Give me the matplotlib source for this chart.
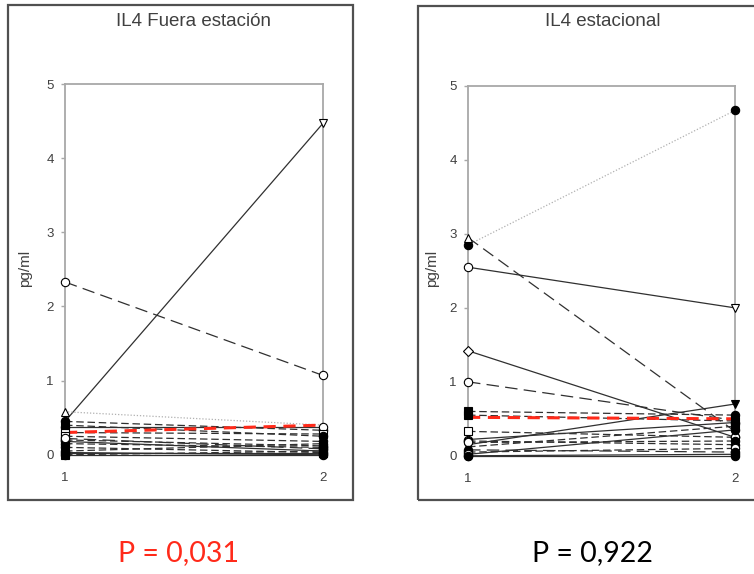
import matplotlib
matplotlib.use("Agg")
import matplotlib.pyplot as plt
from matplotlib.patches import Rectangle

# Paired IL4 measurements (pg/ml) at visit 1 and visit 2
visits = [1, 2]

fuera_v1 = [0.45, 2.33, 0.58, 0.45, 0.38, 0.30, 0.20, 0.25, 0.18, 0.15,
            0.00, 0.02, 0.00, 0.03, 0.05, 0.22, 0.40, 0.10]
fuera_v2 = [4.47, 1.07, 0.40, 0.33, 0.38, 0.28, 0.12, 0.18, 0.05, 0.10,
            0.00, 0.02, 0.05, 0.00, 0.15, 0.08, 0.25, 0.03]
fuera_mean = [0.30, 0.40]

estac_v1 = [2.85, 2.95, 2.55, 1.42, 1.00, 0.60, 0.15, 0.33, 0.22, 0.20,
            0.12, 0.18, 0.00, 0.05, 0.08, 0.02, 0.00, 0.55]
estac_v2 = [4.67, 0.33, 2.00, 0.25, 0.48, 0.55, 0.70, 0.25, 0.45, 0.15,
            0.40, 0.20, 0.00, 0.10, 0.05, 0.35, 0.02, 0.47]
estac_mean = [0.52, 0.50]

panels = [
    ("IL4 Fuera estación", fuera_v1, fuera_v2, fuera_mean, "P = 0,031", "#ff2a1a"),
    ("IL4 estacional", estac_v1, estac_v2, estac_mean, "P = 0,922", "black"),
]

# Per-subject drawing styles (marker at visit 1, marker at visit 2, line style)
fuera_styles = [
    ("", "v_open", "solid"), ("o_open", "o_open", "longdash"),
    ("^_open", "", "dotted"), ("o_fill", "o_fill", "dashed"),
    ("o_open", "o_open", "solid"), ("s_open", "s_open", "dashed"),
    ("o_open", "o_fill", "dashed"), ("s_open", "o_fill", "dashed"),
    ("o_open", "s_fill", "solid"), ("o_fill", "o_fill", "dashed"),
    ("o_fill", "o_fill", "solid"), ("o_fill", "o_fill", "solid"),
    ("s_fill", "s_fill", "dashed"), ("v_fill", "v_fill", "solid"),
    ("o_fill", "o_fill", "dashed"), ("o_open", "o_fill", "longdash"),
    ("s_fill", "o_fill", "dashed"), ("o_fill", "s_fill", "dashed"),
]
estac_styles = [
    ("o_fill", "o_fill", "dotted"), ("^_open", "", "longdash"),
    ("o_open", "v_open", "solid"), ("D_open", "o_open", "solid"),
    ("o_open", "", "longdash"), ("s_fill", "o_fill", "dashed"),
    ("v_fill", "v_fill", "solid"), ("s_open", "o_open", "dashed"),
    ("o_open", "o_open", "solid"), ("o_fill", "o_fill", "dashed"),
    ("v_fill", "s_fill", "dashed"), ("o_open", "o_fill", "dashed"),
    ("o_open", "o_fill", "solid"), ("o_fill", "o_open", "dashed"),
    ("o_fill", "o_fill", "longdash"), ("o_open", "o_fill", "solid"),
    ("o_fill", "o_fill", "solid"), ("s_fill", "s_fill", "dashed"),
]

LINESTYLES = {
    "solid": "-",
    "dashed": (0, (6, 3)),
    "longdash": (0, (10, 5)),
    "dotted": (0, (1, 1.5)),
}


def draw_marker(ax, x, y, spec):
    if not spec:
        return
    shape, fill = spec.split("_")
    face = "black" if fill == "fill" else "white"
    size = 6 if shape != "D" else 5.5
    ax.plot([x], [y], marker=shape, ms=size, mfc=face, mec="black",
            mew=0.8, ls="none", zorder=5, clip_on=False)


fig = plt.figure(figsize=(7.54, 5.74), dpi=100)
W, H = 754, 574

# Outer panel frames
fig.patches.append(Rectangle((8 / W, 1 - 500 / H), 345 / W, 495 / H,
                             transform=fig.transFigure, fill=False,
                             ec="#505050", lw=1.6))
fig.patches.append(Rectangle((418 / W, 1 - 500 / H), 360 / W, 494 / H,
                             transform=fig.transFigure, fill=False,
                             ec="#505050", lw=1.6, clip_on=False))

axes_boxes = [
    (65 / W, 1 - 457 / H, 258 / W, 373 / H),
    (468 / W, 1 - 458 / H, 267 / W, 372 / H),
]
title_x = [194 / W, 603 / W]
ylabel_x = [25 / W, 432 / W]
ptext_x = [178 / W, 593 / W]
styles_all = [fuera_styles, estac_styles]

for i, (title, v1, v2, mean, ptext, pcolor) in enumerate(panels):
    ax = fig.add_axes(axes_boxes[i])
    ax.set_xlim(1, 2)
    ax.set_ylim(-0.03, 5)
    for sp in ["left", "right", "top"]:
        ax.spines[sp].set_color("#a8a8a8")
        ax.spines[sp].set_linewidth(1.3)
    ax.spines["bottom"].set_visible(False)
    ax.set_yticks([0, 1, 2, 3, 4, 5])
    ax.set_xticks(visits)
    ax.tick_params(axis="y", colors="#a8a8a8", labelcolor="#404040",
                   length=3, width=1, labelsize=9.5, pad=5)
    ax.tick_params(axis="x", length=0, labelcolor="#404040", labelsize=9.5,
                   pad=11)
    for lab in ax.get_xticklabels() + ax.get_yticklabels():
        lab.set_family("Liberation Sans")

    for (a, b), (m1, m2, ls) in zip(zip(v1, v2), styles_all[i]):
        color = "#b0b0b0" if ls == "dotted" else "#303030"
        ax.plot(visits, [a, b], color=color, lw=0.9, ls=LINESTYLES[ls],
                zorder=3)
        draw_marker(ax, 1, a, m1)
        draw_marker(ax, 2, b, m2)

    ax.plot(visits, mean, color="#ff2a1a", lw=2.2, ls=(0, (4, 2.5)),
            zorder=4)

    fig.text(title_x[i], 1 - 22 / H, title, ha="center", va="center",
             fontsize=13.5, color="#404040", family="Liberation Sans")
    fig.text(ylabel_x[i], 1 - 268 / H, "pg/ml", rotation=90, ha="center",
             va="center", fontsize=11, color="#404040",
             family="Liberation Sans")
    fig.text(ptext_x[i], 1 - 553 / H, ptext, ha="center", va="center",
             fontsize=20.5, color=pcolor, family="Lato")

fig.savefig("out.png", dpi=100)
